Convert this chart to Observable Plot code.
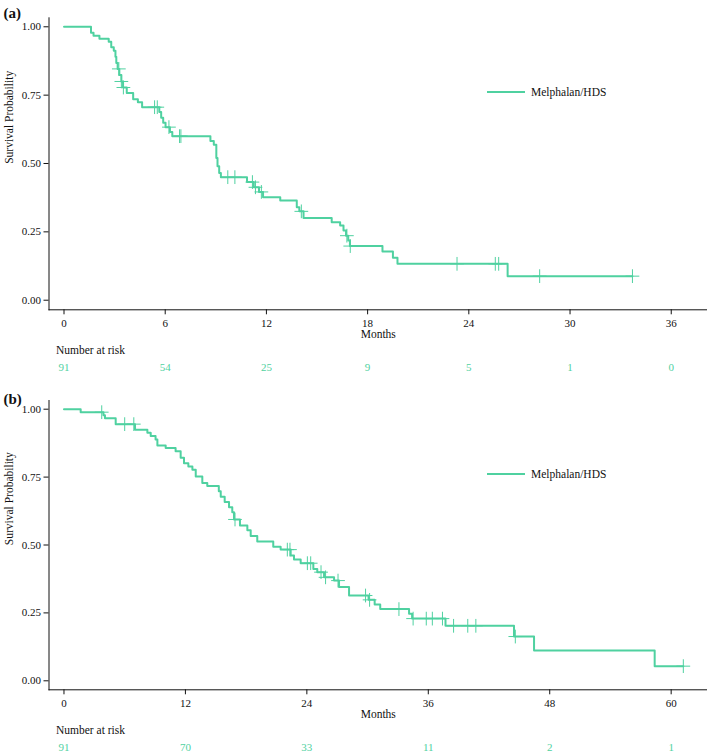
<!DOCTYPE html>
<html><head><meta charset="utf-8">
<script src="https://cdn.jsdelivr.net/npm/d3@7"></script>
<script src="https://cdn.jsdelivr.net/npm/@observablehq/plot@0.6"></script>
<style>
body{margin:0;background:#fff;font-family:"Liberation Serif","Times New Roman",Times,"DejaVu Serif",serif;}
.panel{position:relative;width:707px;}
.panel svg{display:block;}
.panel svg text{font-family:"Liberation Serif","Times New Roman",Times,"DejaVu Serif",serif;}
.legend{position:absolute;display:flex;align-items:center;height:14px;font-size:11.5px;color:#111;white-space:nowrap;}
.legend .sw{display:inline-block;width:38px;height:2px;margin-right:6px;}
</style></head><body><div id="chart"></div>
<script>
const COLOR = "#4fd1a0";
const FONT = "'Liberation Serif', 'Times New Roman', Times, 'DejaVu Serif', serif";
const seriesName = "Melphalan/HDS";

// Panel (a)
const timesA = [0, 1.6, 1.75, 2.1, 2.65, 2.8, 2.95, 3.05, 3.1, 3.18, 3.28, 3.4, 3.5, 3.72, 4.1, 4.38, 4.63,
  5.65, 5.76, 5.88, 6.02, 6.28, 6.42, 8.68, 8.88, 9.03, 9.1, 9.2, 9.3, 10.85, 11.25, 11.56, 11.8,
  12.82, 13.8, 13.95, 14.2, 15.87, 16.37, 16.57, 16.72, 16.85, 16.95, 18.88, 19.5, 19.77, 26.3, 33.7];
const survA = [1, 0.978, 0.967, 0.956, 0.945, 0.925, 0.912, 0.89, 0.868, 0.846, 0.824, 0.8, 0.778, 0.758, 0.735, 0.724, 0.706,
  0.688, 0.667, 0.649, 0.633, 0.615, 0.600, 0.582, 0.569, 0.52, 0.49, 0.465, 0.45, 0.432, 0.413, 0.396, 0.377,
  0.365, 0.340, 0.325, 0.301, 0.285, 0.273, 0.255, 0.236, 0.218, 0.198, 0.178, 0.155, 0.133, 0.088, 0.088];
const censorA = [3.25, 3.4, 3.52, 5.37, 5.53, 6.22, 6.85, 6.93, 9.71, 10.13, 11.17, 11.35, 11.7, 14.07, 16.77, 16.97,
  23.3, 25.57, 25.77, 28.2, 33.7];
const xTicksA = [0, 6, 12, 18, 24, 30, 36];
const riskA = [91, 54, 25, 9, 5, 1, 0];

// Panel (b)
const timesB = [0, 1.65, 3.9, 4.05, 5.11, 7.02, 8.24, 8.57, 9.05, 9.23, 10.05, 11.03, 11.53, 11.86, 12.29, 12.69,
  13.02, 13.67, 14.16, 15.3, 15.49, 15.88, 16.31, 16.63, 16.8, 17.39, 18.12, 18.45, 19.1, 20.68, 21.41,
  22.4, 22.73, 23.39, 24.64, 25.03, 25.7, 26.69, 27.18, 28.17, 30.1, 30.7, 31.25, 34.1, 34.4, 37.7,
  44.47, 46.45, 58.37, 61.2];
const survB = [1, 0.989, 0.978, 0.967, 0.945, 0.924, 0.913, 0.901, 0.888, 0.866, 0.857, 0.845, 0.821, 0.801, 0.789, 0.777,
  0.752, 0.728, 0.717, 0.698, 0.678, 0.658, 0.639, 0.621, 0.594, 0.572, 0.554, 0.533, 0.513, 0.494, 0.483,
  0.461, 0.447, 0.433, 0.412, 0.400, 0.381, 0.369, 0.345, 0.314, 0.298, 0.281, 0.264, 0.247, 0.229, 0.2025,
  0.163, 0.1115, 0.054, 0.054];
const censorB = [3.73, 6.0, 6.9, 16.9, 22.07, 22.33, 24.05, 24.38, 25.4, 25.85, 27.08, 29.8, 30.2, 33.1, 34.5,
  35.8, 36.4, 37.4, 38.5, 39.9, 40.7, 44.6, 61.2];
const xTicksB = [0, 12, 24, 36, 48, 60];
const riskB = [91, 70, 33, 11, 2, 1];

const yTicks = [0, 0.25, 0.5, 0.75, 1];

function panel(cfg) {
  const {tag, times, surv, censor, xTicks, risk, xDomain, yDomain, height, marginTop, marginBottom, tagDy, legendTop} = cfg;
  const curve = times.map((t, i) => ({t, s: surv[i]}));
  const sAt = t => { let s = surv[0]; for (let i = 0; i < times.length; i++) if (times[i] <= t) s = surv[i]; return s; };
  const cens = censor.map(t => ({t, s: sAt(t)}));
  const rk = xTicks.map((t, i) => ({t, n: risk[i]})).filter(d => d.n !== undefined);
  const svg = Plot.plot({
    width: 707, height, marginTop, marginBottom, marginLeft: 48.5, marginRight: 0,
    style: {fontFamily: FONT, fontSize: "11px", color: "#111", background: "white"},
    x: {domain: xDomain},
    y: {domain: yDomain},
    marks: [
      Plot.frame({anchor: "left", stroke: "#111", strokeWidth: 1}),
      Plot.frame({anchor: "bottom", stroke: "#111", strokeWidth: 1}),
      Plot.axisX({ticks: xTicks, tickSize: 5, tickPadding: 4, label: null, fontSize: 11, tickFormat: d => String(d)}),
      Plot.axisY({ticks: yTicks, tickSize: 5, tickPadding: 3, label: null, fontSize: 11, tickFormat: d3.format(".2f")}),
      Plot.line(curve, {x: "t", y: "s", curve: "step-after", stroke: COLOR, strokeWidth: 2}),
      Plot.dot(cens, {x: "t", y: "s", symbol: "plus", r: 4.5, stroke: COLOR, strokeWidth: 1}),
      Plot.text(["Survival Probability"], {text: d => d, frameAnchor: "left", dx: -40, rotate: -90, fontSize: 11.5, fill: "#111"}),
      Plot.text(["Months"], {text: d => d, frameAnchor: "bottom", dy: 28, fontSize: 11.5, fill: "#111"}),
      Plot.text(["Number at risk"], {text: d => d, frameAnchor: "bottom-left", dx: 7, dy: 44, textAnchor: "start", fontSize: 11.5, fill: "#111"}),
      Plot.text(rk, {x: "t", text: d => String(d.n), frameAnchor: "bottom", dy: 61, fontSize: 11, fill: COLOR}),
      Plot.text([tag], {text: d => d, frameAnchor: "top-left", dx: -45.5, dy: tagDy, textAnchor: "start", fontWeight: "bold", fontSize: 15, fill: "#111"})
    ]
  });
  const wrap = document.createElement("div");
  wrap.className = "panel";
  wrap.appendChild(svg);
  const lg = document.createElement("div");
  lg.className = "legend";
  lg.style.left = "487px";
  lg.style.top = (legendTop - 7) + "px";
  const sw = document.createElement("span");
  sw.className = "sw";
  sw.style.background = COLOR;
  lg.appendChild(sw);
  lg.appendChild(document.createTextNode(seriesName));
  wrap.appendChild(lg);
  return wrap;
}

const root = document.getElementById("chart");
root.appendChild(panel({tag: "(a)", times: timesA, surv: survA, censor: censorA, xTicks: xTicksA, risk: riskA,
  xDomain: [-0.89, 38.15], yDomain: [-0.0351, 1.0329], height: 378, marginTop: 17.3, marginBottom: 68.7,
  tagDy: -10.3, legendTop: 91.7}));
root.appendChild(panel({tag: "(b)", times: timesB, surv: survB, censor: censorB, xTicks: xTicksB, risk: riskB,
  xDomain: [-1.48, 63.59], yDomain: [-0.0331, 1.032], height: 377, marginTop: 22, marginBottom: 65.7,
  tagDy: -7, legendTop: 96}));
</script></body></html>
